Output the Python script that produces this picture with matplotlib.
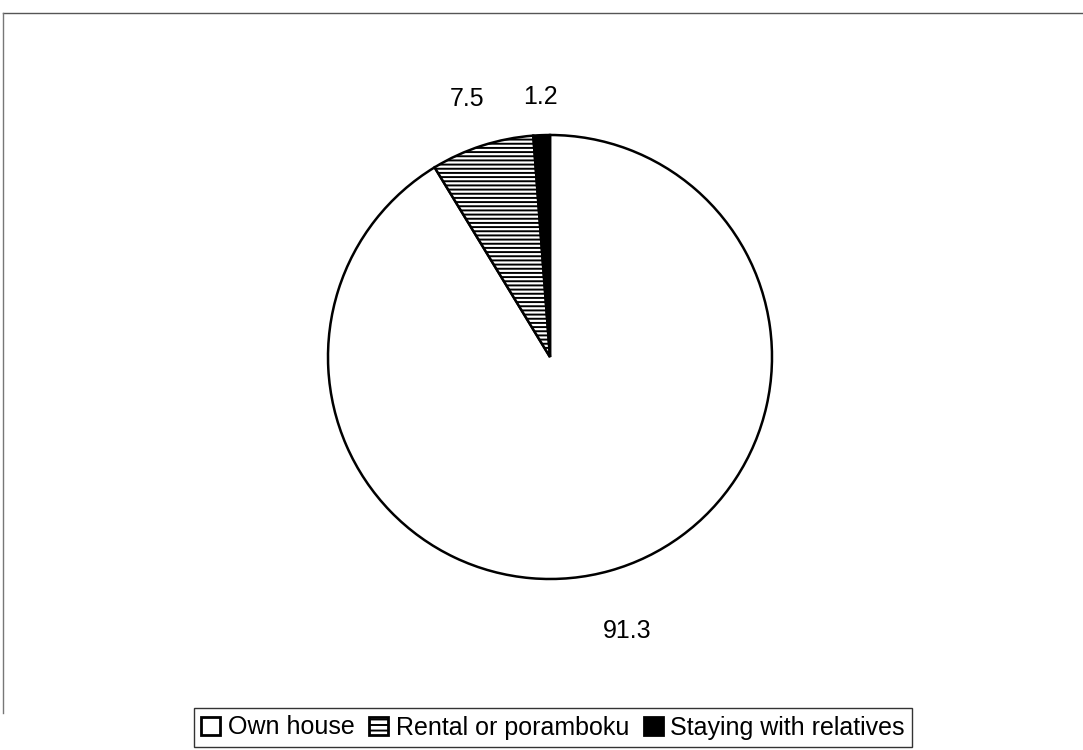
import matplotlib
matplotlib.use("Agg")
import matplotlib.pyplot as plt
from matplotlib.lines import Line2D

categories = ["Own house", "Rental or poramboku", "Staying with relatives"]
values = [91.3, 7.5, 1.2]
labels = ["91.3", "7.5", "1.2"]
colors = ["white", "white", "black"]
hatches = ["", "----", ""]

plt.rcParams['font.family'] = ['Liberation Sans', 'DejaVu Sans']
plt.rcParams['hatch.linewidth'] = 1.4

fig = plt.figure(figsize=(10.83, 7.5), dpi=100)
W, H = 1083, 750
cx, cy, r = 550, 357, 222
lim = 1.3
half = lim * r
ax = fig.add_axes([(cx - half) / W, 1 - (cy + half) / H, 2 * half / W, 2 * half / H])

wedges, texts = ax.pie(values, labels=labels, colors=colors, startangle=90,
                       counterclock=False, labeldistance=1.22,
                       wedgeprops=dict(edgecolor='black', linewidth=1.8),
                       textprops=dict(fontsize=18, color='black'))
for w, h in zip(wedges, hatches):
    w.set_hatch(h)
x0, y0 = texts[0].get_position()
texts[0].set_position((x0 * 1.05, y0 * 1.05))
x2, y2 = texts[2].get_position()
texts[2].set_position((x2 * 0.96, y2 * 0.96))
for t in texts:
    t.set_ha('center')
    t.set_va('center')
ax.set_xlim(-lim, lim)
ax.set_ylim(-lim, lim)
ax.set_aspect('equal')
ax.axis('off')

handles = [plt.Rectangle((0, 0), 1, 1, facecolor=c, edgecolor='black', hatch=h, linewidth=2)
           for c, h in zip(colors, ["", "---", ""])]
leg = fig.legend(handles, categories, loc='lower center', bbox_to_anchor=(553 / W, 3 / H),
                 ncol=3, frameon=True, fancybox=False, edgecolor='black', fontsize=18,
                 handlelength=0.75, handleheight=0.75, handletextpad=0.3, columnspacing=0.6,
                 borderpad=0.3, borderaxespad=0.0)
leg.get_frame().set_linewidth(1.0)

fig.add_artist(Line2D([3 / W, 1], [1 - 13 / H, 1 - 13 / H], color='#555555', lw=1.0, transform=fig.transFigure))
fig.add_artist(Line2D([3 / W, 3 / W], [0.05, 1 - 13 / H], color='#777777', lw=1.0, transform=fig.transFigure))

fig.savefig("out.png", dpi=100)
